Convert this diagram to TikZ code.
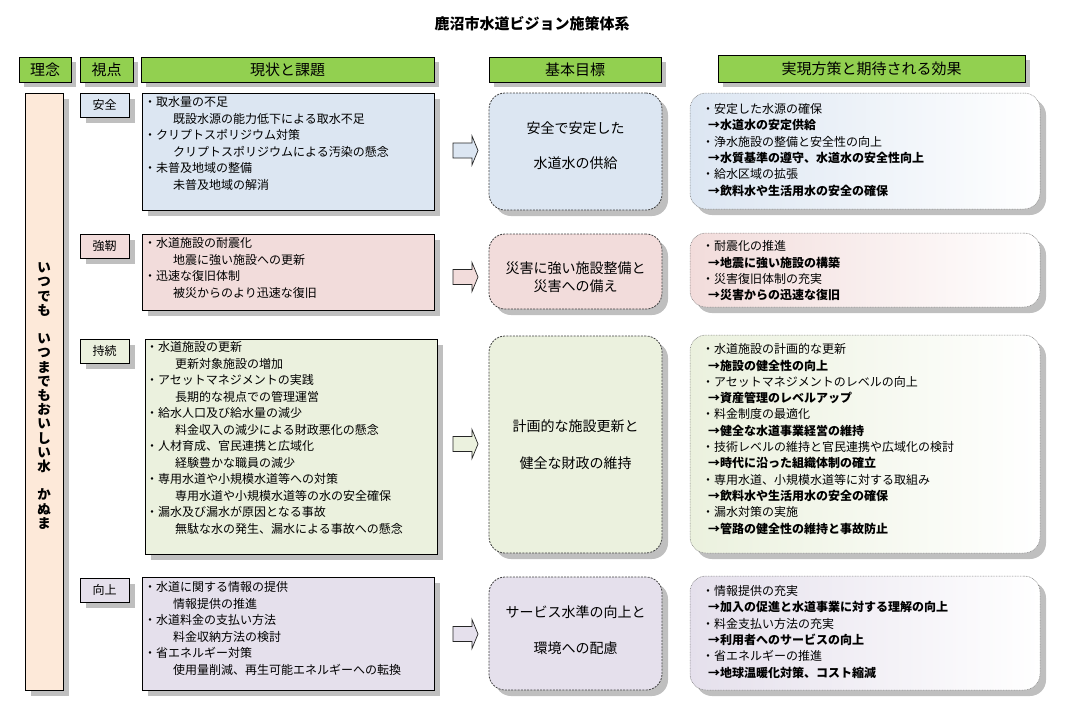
\documentclass[tikz,border=0pt]{standalone}
\usepackage{fontspec}
\setmainfont{Noto Sans CJK JP}
\usetikzlibrary{shadows}
\definecolor{hdrgreen}{HTML}{92D050}
\definecolor{peach}{HTML}{FDE9D9}
\definecolor{rowblue}{HTML}{DCE6F2}
\definecolor{rowpink}{HTML}{F2DCDB}
\definecolor{rowgreen}{HTML}{EBF1DE}
\definecolor{rowlav}{HTML}{E5E0EC}
\definecolor{shadowgray}{HTML}{BFBFBF}
\definecolor{dashgray}{HTML}{404040}
\definecolor{dotgray}{HTML}{808080}
\newcommand\boxat[7]{\node[#1, anchor=north west, minimum width={(#5)-(#3)}, minimum height={(#6)-(#4)}] (#2) at (#3,#4) {#7};}
\newcommand\blockarrow[2]{\draw[blkarrow, fill=#2] ([shift={(-12.5,-7.5)}]#1) -- ([shift={(6.5,-7.5)}]#1) -- ([shift={(6.5,-14.5)}]#1) -- ([shift={(12.5,0)}]#1) -- ([shift={(6.5,14.5)}]#1) -- ([shift={(6.5,7.5)}]#1) -- ([shift={(-12.5,7.5)}]#1) -- cycle;}
\tikzset{
  base/.style={inner sep=0pt, outer sep=0pt, line width=0.8pt},
  shad/.style={drop shadow={shadow xshift=6pt, shadow yshift=-6pt, fill=shadowgray, opacity=1}},
  hdr/.style={base, draw=black, fill=hdrgreen, drop shadow={shadow xshift=5pt, shadow yshift=-5pt, fill=shadowgray, opacity=1}, font=\fontsize{15}{15}\selectfont},
  vlabel/.style={base, draw=black, fill=#1, shad, font=\fontsize{12}{12}\selectfont},
  cbox/.style={base, draw=black, fill=#1, shad},
  goal/.style={base, draw=dashgray, dash pattern=on 2pt off 1.2pt, rounded corners=16pt, fill=#1, shad},
  eff/.style={base, draw=dotgray, line width=0.5pt, dash pattern=on 0.8pt off 0.8pt, rounded corners=16pt, left color=#1, right color=white, shad},
  ctext/.style={inner sep=0pt, anchor=north west, align=left, font=\fontsize{12}{16.5}\selectfont},
  etext/.style={inner sep=0pt, anchor=north west, align=left, font=\fontsize{12}{16.3}\selectfont},
  gtext/.style={inner sep=0pt, align=center, font=\fontsize{14}{#1}\selectfont},
  blkarrow/.style={draw=black!85, line width=0.7pt, line join=miter},
}
\newcommand\ind{\hspace*{29pt}}
\newcommand\arr{\hspace*{6pt}\textbf}
\begin{document}
\begin{tikzpicture}[x=1pt,y=-1pt]
\useasboundingbox (0,0) rectangle (1065,726);
% title
\node[font=\bfseries\fontsize{15}{15}\selectfont, inner sep=0pt] (title) at (532,24) {鹿沼市水道ビジョン施策体系};
% headers
\boxat{hdr}{h1}{19}{57}{71}{82}{理念}
\boxat{hdr}{h2}{80}{57}{133}{82}{視点}
\boxat{hdr}{h3}{141}{57}{434}{82}{現状と課題}
\boxat{hdr}{h4}{489}{57}{661}{82}{基本目標}
\boxat{hdr}{h5}{718}{55}{1025}{82}{実現方策と期待される効果}
% motto column
\boxat{cbox=peach}{motto}{25}{93}{63}{690}{}
\node[font=\bfseries\fontsize{13.5}{14.2}\selectfont, align=center, inner sep=0pt] (mottotext) at (44,396)
 {い\\つ\\で\\も\\　\\い\\つ\\ま\\で\\も\\お\\い\\し\\い\\水\\　\\か\\ぬ\\ま};
% ---------- row 1
\boxat{vlabel=rowblue}{v1}{80}{93}{129}{117}{安全}
\boxat{cbox=rowblue}{c1}{142}{93}{434}{210}{}
\node[ctext] (ct1) at (144,96.4) {・取水量の不足\\\ind 既設水源の能力低下による取水不足\\・クリプトスポリジウム対策\\\ind クリプトスポリジウムによる汚染の懸念\\・未普及地域の整備\\\ind 未普及地域の解消};
\coordinate (a1) at (465.5,150.5);
\blockarrow{a1}{rowblue}
\boxat{goal=rowblue}{g1}{489}{93}{662}{210}{}
\node[gtext=35] (gt1) at (575.5,145.5) {安全で安定した\\水道水の供給};
\boxat{eff=rowblue}{e1}{690}{93}{1040}{209}{}
\node[etext] (et1) at (702,103.4) {・安定した水源の確保\\\arr{→水道水の安定供給}\\・浄水施設の整備と安全性の向上\\\arr{→水質基準の遵守、水道水の安全性向上}\\・給水区域の拡張\\\arr{→飲料水や生活用水の安全の確保}};
% ---------- row 2
\boxat{vlabel=rowpink}{v2}{80}{234}{129}{258}{強靭}
\boxat{cbox=rowpink}{c2}{142}{234}{434}{310}{}
\node[ctext] (ct2) at (144,237.4) {・水道施設の耐震化\\\ind 地震に強い施設への更新\\・迅速な復旧体制\\\ind 被災からのより迅速な復旧};
\coordinate (a2) at (465.5,277);
\blockarrow{a2}{rowpink}
\boxat{goal=rowpink}{g2}{489}{234}{662}{309}{}
\node[gtext=18] (gt2) at (575.5,277) {災害に強い施設整備と\\災害への備え};
\boxat{eff=rowpink}{e2}{690}{233}{1040}{307}{}
\node[etext] (et2) at (702,240.4) {・耐震化の推進\\\arr{→地震に強い施設の構築}\\・災害復旧体制の充実\\\arr{→災害からの迅速な復旧}};
% ---------- row 3
\boxat{vlabel=rowgreen}{v3}{80}{339}{129}{363}{持続}
\boxat{cbox=rowgreen}{c3}{145}{339}{437}{554}{}
\node[ctext] (ct3) at (146,341.4) {・水道施設の更新\\\ind 更新対象施設の増加\\・アセットマネジメントの実践\\\ind 長期的な視点での管理運営\\・給水人口及び給水量の減少\\\ind 料金収入の減少による財政悪化の懸念\\・人材育成、官民連携と広域化\\\ind 経験豊かな職員の減少\\・専用水道や小規模水道等への対策\\\ind 専用水道や小規模水道等の水の安全確保\\・漏水及び漏水が原因となる事故\\\ind 無駄な水の発生、漏水による事故への懸念};
\coordinate (a3) at (465.5,444);
\blockarrow{a3}{rowgreen}
\boxat{goal=rowgreen}{g3}{489}{336}{662}{553}{}
\node[gtext=37] (gt3) at (575.5,444.5) {計画的な施設更新と\\健全な財政の維持};
\boxat{eff=rowgreen}{e3}{690}{335}{1040}{553}{}
\node[etext] (et3) at (702,343.4) {・水道施設の計画的な更新\\\arr{→施設の健全性の向上}\\・アセットマネジメントのレベルの向上\\\arr{→資産管理のレベルアップ}\\・料金制度の最適化\\\arr{→健全な水道事業経営の維持}\\・技術レベルの維持と官民連携や広域化の検討\\\arr{→時代に沿った組織体制の確立}\\・専用水道、小規模水道等に対する取組み\\\arr{→飲料水や生活用水の安全の確保}\\・漏水対策の実施\\\arr{→管路の健全性の維持と事故防止}};
% ---------- row 4
\boxat{vlabel=rowlav}{v4}{80}{578}{129}{602}{向上}
\boxat{cbox=rowlav}{c4}{142}{577}{434}{690}{}
\node[ctext] (ct4) at (144,581.4) {・水道に関する情報の提供\\\ind 情報提供の推進\\・水道料金の支払い方法\\\ind 料金収納方法の検討\\・省エネルギー対策\\\ind 使用量削減、再生可能エネルギーへの転換};
\coordinate (a4) at (465.5,634);
\blockarrow{a4}{rowlav}
\boxat{goal=rowlav}{g4}{489}{577}{662}{690}{}
\node[gtext=36] (gt4) at (575.5,630) {サービス水準の向上と\\環境への配慮};
\boxat{eff=rowlav}{e4}{690}{576}{1040}{690}{}
\node[etext] (et4) at (702,585.4) {・情報提供の充実\\\arr{→加入の促進と水道事業に対する理解の向上}\\・料金支払い方法の充実\\\arr{→利用者へのサービスの向上}\\・省エネルギーの推進\\\arr{→地球温暖化対策、コスト縮減}};
\end{tikzpicture}
\end{document}
